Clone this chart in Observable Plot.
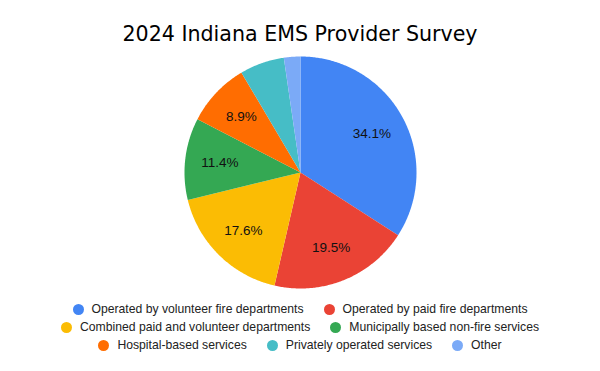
<!DOCTYPE html>
<html>
<head>
<meta charset="utf-8">
<script src="https://cdn.jsdelivr.net/npm/d3@7"></script>
<script src="https://cdn.jsdelivr.net/npm/@observablehq/plot@0.6"></script>
<style>
  html, body { margin: 0; padding: 0; background: #fff; }
  #wrap { position: relative; width: 600px; height: 371px; overflow: hidden; }
  #title { position: absolute; top: 22px; left: 0; width: 600px; text-align: center;
    font-family: "DejaVu Sans", Verdana, sans-serif; font-size: 20.6px; line-height: 24px; color: #000; }
  #chart { position: absolute; top: 0; left: 0; }
  #legend { position: absolute; top: 300px; left: 40px; width: 520px; display: flex; flex-wrap: wrap;
    justify-content: center; column-gap: 20px; font-family: "Liberation Sans", Arial, sans-serif;
    font-size: 12.2px; line-height: 18px; color: #222; }
  .item { display: inline-flex; align-items: center; white-space: nowrap; }
  .dot { width: 11px; height: 11px; border-radius: 50%; margin-right: 8px; flex: none; }
</style>
</head>
<body>
<div id="wrap">
  <div id="title"></div>
  <div id="chart"></div>
  <div id="legend"></div>
</div>
<script>
const title = "2024 Indiana EMS Provider Survey";
const categories = [
  "Operated by volunteer fire departments",
  "Operated by paid fire departments",
  "Combined paid and volunteer departments",
  "Municipally based non-fire services",
  "Hospital-based services",
  "Privately operated services",
  "Other"
];
const values = [34.1, 19.5, 17.6, 11.4, 8.9, 6.2, 2.3];
const colors = ["#4285f4", "#ea4335", "#fbbc04", "#34a853", "#ff6d01", "#46bdc6", "#7baaf7"];

// layout
const W = 600, H = 371, R = 116, CX = 300, CY = 172;
const labelRadius = 0.7;
const labelMinPct = 7;

const arcs = d3.pie().sort(null).value(d => d)(values);
const polys = [];
arcs.forEach((a, i) => {
  const cat = categories[i];
  polys.push({cat, x: 0, y: 0});
  const n = Math.max(2, Math.ceil((a.endAngle - a.startAngle) / 0.01));
  for (let k = 0; k <= n; k++) {
    const t = a.startAngle + (a.endAngle - a.startAngle) * k / n;
    polys.push({cat, x: Math.sin(t), y: Math.cos(t)});
  }
  polys.push({cat, x: 0, y: 0});
});
const labels = arcs.map((a, i) => {
  const m = (a.startAngle + a.endAngle) / 2;
  return {cat: categories[i], v: values[i], x: labelRadius * Math.sin(m), y: labelRadius * Math.cos(m)};
}).filter(d => d.v >= labelMinPct);

const chart = Plot.plot({
  width: W, height: H,
  margin: 0,
  x: {domain: [-CX / R, (W - CX) / R], axis: null},
  y: {domain: [-(H - CY) / R, CY / R], axis: null},
  color: {domain: categories, range: colors},
  marks: [
    Plot.line(polys, {x: "x", y: "y", z: "cat", fill: "cat", stroke: "none", curve: "linear-closed"}),
    Plot.text(labels, {x: "x", y: "y", text: d => d.v.toFixed(1) + "%", fill: "#111",
      fontSize: 13.5, fontFamily: "Liberation Sans, Arial, sans-serif"})
  ]
});
document.getElementById("chart").appendChild(chart);
document.getElementById("title").textContent = title;

const legend = document.getElementById("legend");
categories.forEach((c, i) => {
  const item = document.createElement("span");
  item.className = "item";
  const dot = document.createElement("span");
  dot.className = "dot";
  dot.style.background = colors[i];
  item.appendChild(dot);
  item.appendChild(document.createTextNode(c));
  legend.appendChild(item);
});
</script>
</body>
</html>
